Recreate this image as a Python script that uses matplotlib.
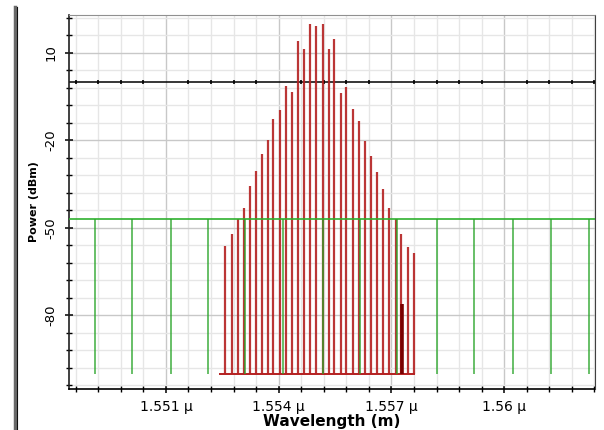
# Optical spectrum: signal comb (red) and pump/reference channels (green)

import numpy as np
import matplotlib.pyplot as plt
from matplotlib.ticker import MultipleLocator, FuncFormatter
from matplotlib.lines import Line2D

# wavelengths in micrometres, powers in dBm
red_wavelength = [1.552572, 1.552758, 1.552905, 1.553086, 1.553224, 1.553397, 1.553549, 1.553716,
                  1.553857, 1.554035, 1.554200, 1.554355, 1.554525, 1.554666, 1.554839, 1.554985,
                  1.555171, 1.555334, 1.555480, 1.555645, 1.555797, 1.555969, 1.556124, 1.556297,
                  1.556462, 1.556616, 1.556781, 1.556935, 1.557108, 1.557246, 1.557433, 1.557606]
red_power = [-56.1, -52.2, -47.0, -43.0, -35.6, -30.5, -24.7, -19.8,
             -12.7, -9.4, -1.2, -3.3, 14.2, 11.3, 19.9, 19.2,
             19.9, 11.3, 14.7, -3.6, -1.6, -9.3, -13.2, -20.2,
             -25.2, -30.7, -36.7, -43.0, -46.9, -52.2, -56.4, -58.7]
red_floor = -100.0

# one extra, darker component near 1.5573 um
dark_wavelength = [1.557273]
dark_power = [-76.0]

green_wavelength = [1.549106, 1.550098, 1.551136, 1.552128, 1.553104, 1.554123, 1.555187,
                    1.556164, 1.557148, 1.558204, 1.559196, 1.560242, 1.561245, 1.562248]
green_level = -46.9
green_floor = -100.0

x_limits = (1.548409, 1.562415)
y_limits = (-105.2, 23.0)


def main():
    fig = plt.figure(figsize=(6.04, 4.30), dpi=100)
    ax = fig.add_axes([68.5 / 604, 1 - 389 / 430, (595 - 68.5) / 604, (389 - 15) / 430])

    ax.set_xlim(*x_limits)
    ax.set_ylim(*y_limits)

    # grid: light at every minor tick, a bit darker at the majors
    ax.xaxis.set_major_locator(MultipleLocator(0.003))
    ax.xaxis.set_minor_locator(MultipleLocator(0.0006))
    ax.yaxis.set_major_locator(MultipleLocator(30, offset=10))
    ax.yaxis.set_minor_locator(MultipleLocator(6, offset=4))
    ax.grid(which='minor', color='#e6e6e6', lw=1.0)
    ax.grid(which='major', color='#c8c8c8', lw=1.0)
    ax.set_axisbelow(True)

    # zero-dBm reference line with small tick marks
    ax.axhline(0, color='black', lw=1.1, zorder=2)
    minor_x = [t for t in ax.xaxis.get_minorticklocs() if x_limits[0] <= t <= x_limits[1]]
    ax.plot(minor_x, np.zeros(len(minor_x)), ls='none', marker='|', ms=3, mew=1.2,
            color='black', zorder=2)

    # red comb
    step = red_wavelength[1] - red_wavelength[0]
    ax.hlines(red_floor, red_wavelength[0] - 0.8 * step, red_wavelength[-1] + 0.1 * step,
              color='#b42020', lw=1.4, zorder=3)
    ax.vlines(red_wavelength, red_floor, red_power, color='#b42020', lw=1.6, alpha=0.9, zorder=3)
    ax.vlines(dark_wavelength, red_floor, dark_power, color='#7a0000', lw=2.6, zorder=3)

    # green channels
    ax.axhline(green_level, color='#2fb02f', lw=1.2, zorder=4)
    ax.vlines(green_wavelength, green_floor, green_level, color='#2aa52a', lw=1.1,
              alpha=0.9, zorder=4)

    # axis look
    ax.spines['left'].set_color('#202020')
    ax.spines['left'].set_linewidth(1.2)
    ax.spines['bottom'].set_linestyle((0, (1, 1)))
    ax.spines['bottom'].set_linewidth(1.2)
    ax.spines['top'].set_linestyle((0, (1, 1)))
    ax.spines['top'].set_color('#909090')
    ax.spines['right'].set_linestyle((0, (1, 1)))
    ax.spines['right'].set_color('#404040')

    ax.tick_params(axis='both', which='both', direction='inout', color='black')
    ax.tick_params(axis='both', which='major', length=6, width=1.1)
    ax.tick_params(axis='both', which='minor', length=5, width=1.0)
    ax.tick_params(axis='x', labelsize=10, pad=5)
    ax.tick_params(axis='y', labelsize=9.5, pad=5, labelrotation=90)
    for lbl in ax.get_yticklabels():
        lbl.set_va('center')

    ax.xaxis.set_major_formatter(FuncFormatter(lambda v, p: f'{v:.4g} μ'))
    ax.yaxis.set_major_formatter(FuncFormatter(lambda v, p: f'{v:g}'))

    ax.set_xlabel('Wavelength (m)', fontsize=11, fontweight='bold')
    ax.set_ylabel('Power (dBm)', fontsize=8, fontweight='bold')
    ax.xaxis.set_label_coords(0.5, -0.068)
    ax.yaxis.set_label_coords(-0.056, 0.5)

    # window border at the left of the screenshot
    fig.add_artist(Line2D([14.5 / 604] * 2, [0, 1 - 7 / 430], transform=fig.transFigure,
                          color='#6a6a6a', lw=2.5))
    fig.add_artist(Line2D([16.5 / 604] * 2, [0, 1 - 7 / 430], transform=fig.transFigure,
                          color='#101010', lw=0.8))

    fig.savefig('out.png', dpi=100)


if __name__ == '__main__':
    main()
